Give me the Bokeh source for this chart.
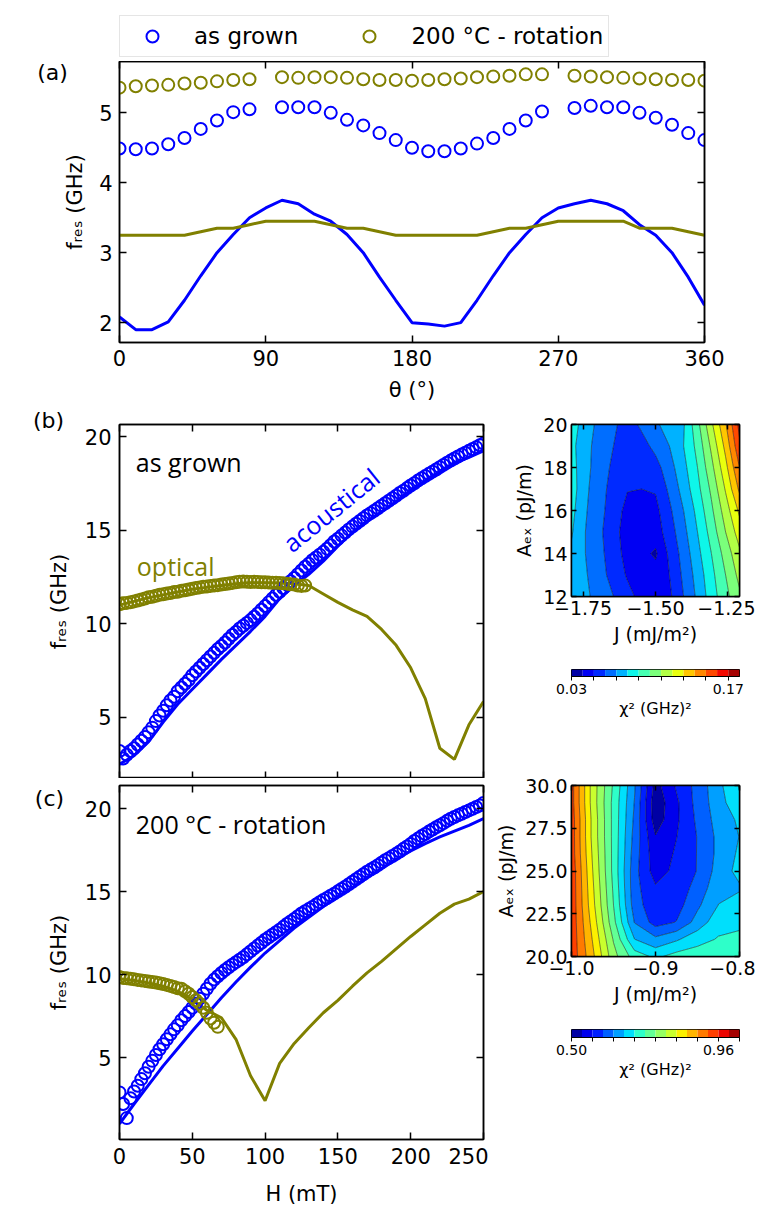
import numpy as np
from bokeh.plotting import figure
from bokeh.models import (Range1d, LinearAxis, FixedTicker, Legend, LegendItem, Label,
                          PrintfTickFormatter, ColumnDataSource)
from bokeh.layouts import column, row
from bokeh.embed import file_html
from bokeh.resources import INLINE

# ------------------------------------------------------------------ data
# (a) resonance frequency vs in-plane angle
theta_pts = [0, 10, 20, 30, 40, 50, 60, 70, 80,
             100, 110, 120, 130, 140, 150, 160, 170, 180, 190, 200, 210, 220, 230, 240, 250, 260,
             280, 290, 300, 310, 320, 330, 340, 350, 360]
fa_grown_pts = [4.49, 4.48, 4.49, 4.55, 4.64, 4.77, 4.89, 5.01, 5.05,
                5.08, 5.08, 5.08, 5.00, 4.90, 4.82, 4.71, 4.61, 4.50, 4.45, 4.45, 4.49, 4.56, 4.64, 4.77, 4.89, 5.02,
                5.07, 5.10, 5.08, 5.08, 5.00, 4.93, 4.83, 4.71, 4.61]
fa_rot_pts = [5.36, 5.38, 5.39, 5.40, 5.42, 5.43, 5.45, 5.47, 5.48,
              5.51, 5.50, 5.51, 5.51, 5.50, 5.48, 5.47, 5.47, 5.46, 5.47, 5.48, 5.49, 5.51, 5.52, 5.53, 5.55, 5.55,
              5.53, 5.52, 5.51, 5.50, 5.49, 5.48, 5.47, 5.47, 5.46]
theta_sim = [0, 10, 20, 30, 40, 50, 60, 70, 80, 90, 100, 110, 120, 130, 140, 150, 160, 170, 180,
             190, 200, 210, 220, 230, 240, 250, 260, 270, 280, 290, 300, 310, 320, 330, 340, 350, 360]
fa_grown_sim = [2.08, 1.90, 1.90, 2.01, 2.32, 2.67, 3.00, 3.26, 3.50, 3.64, 3.75, 3.70, 3.55, 3.45, 3.26,
                3.00, 2.65, 2.32, 2.00, 1.98, 1.95, 2.00, 2.32, 2.67, 3.00, 3.26, 3.50, 3.64, 3.70, 3.75,
                3.70, 3.60, 3.40, 3.25, 3.00, 2.65, 2.25]
fa_rot_sim = [3.25, 3.25, 3.25, 3.25, 3.25, 3.30, 3.35, 3.35, 3.40, 3.45, 3.45, 3.45, 3.45, 3.40, 3.35,
              3.35, 3.30, 3.25, 3.25, 3.25, 3.25, 3.25, 3.25, 3.30, 3.35, 3.35, 3.40, 3.45, 3.45, 3.45,
              3.45, 3.45, 3.35, 3.35, 3.35, 3.30, 3.25]

# (b), (c) field dependence (measured every 2.5 mT)
H_meas = [2.5 * i for i in range(101)]
fb_acou_pts = [3.20, 2.80, 3.00, 3.20, 3.35, 3.55, 3.75, 3.95, 4.20, 4.45,
               4.80, 5.10, 5.35, 5.65, 5.90, 6.10, 6.40, 6.60, 6.80, 7.00,
               7.25, 7.45, 7.65, 7.85, 8.05, 8.25, 8.45, 8.65, 8.82, 9.00,
               9.20, 9.40, 9.57, 9.75, 9.90, 10.05, 10.20, 10.38, 10.55, 10.75,
               10.95, 11.15, 11.35, 11.55, 11.72, 11.92, 12.10, 12.28, 12.45, 12.65,
               12.85, 13.05, 13.22, 13.40, 13.55, 13.70, 13.85, 14.02, 14.20, 14.40,
               14.55, 14.72, 14.88, 15.05, 15.20, 15.35, 15.50, 15.65, 15.80, 15.92,
               16.05, 16.18, 16.32, 16.45, 16.58, 16.72, 16.85, 17.00, 17.12, 17.26,
               17.40, 17.52, 17.66, 17.78, 17.90, 18.02, 18.14, 18.25, 18.38, 18.50,
               18.62, 18.73, 18.84, 18.95, 19.05, 19.15, 19.25, 19.35, 19.45, 19.55,
               19.65]
fb_opt_pts = [11.05, 11.10, 11.12, 11.15, 11.20, 11.25, 11.30, 11.35, 11.42, 11.45,
              11.50, 11.55, 11.58, 11.62, 11.65, 11.70, 11.72, 11.77, 11.80, 11.84,
              11.88, 11.92, 11.95, 11.98, 12.00, 12.03, 12.05, 12.07, 12.10, 12.13,
              12.16, 12.19, 12.22, 12.25, 12.26, 12.25, 12.24, 12.25, 12.24, 12.22,
              12.22, 12.21, 12.20, 12.20, 12.18, 12.17, 12.15, 12.12, 12.10, 12.05,
              12.03, 12.05]
fc_acou_pts = [2.90, 2.20, 1.35, 2.55, 2.95, 3.30, 3.70, 4.05, 4.45, 4.80,
               5.15, 5.50, 5.80, 6.10, 6.40, 6.70, 6.95, 7.25, 7.50, 7.75,
               8.00, 8.25, 8.55, 8.85, 9.15, 9.45, 9.70, 9.90, 10.10, 10.28,
               10.44, 10.60, 10.75, 10.90, 11.05, 11.22, 11.40, 11.58, 11.75, 11.92,
               12.10, 12.25, 12.40, 12.55, 12.70, 12.88, 13.05, 13.20, 13.35, 13.52,
               13.68, 13.82, 13.95, 14.08, 14.22, 14.36, 14.50, 14.62, 14.75, 14.88,
               15.02, 15.16, 15.30, 15.45, 15.60, 15.75, 15.90, 16.05, 16.20, 16.33,
               16.46, 16.60, 16.75, 16.90, 17.02, 17.15, 17.28, 17.42, 17.58, 17.72,
               17.88, 18.05, 18.20, 18.35, 18.48, 18.62, 18.75, 18.88, 19.00, 19.13,
               19.27, 19.40, 19.50, 19.60, 19.70, 19.80, 19.90, 20.00, 20.10, 20.20,
               20.35]
fc_opt_pts = [9.85, 9.80, 9.78, 9.75, 9.72, 9.68, 9.65, 9.62, 9.58, 9.55,
              9.52, 9.48, 9.43, 9.38, 9.32, 9.25, 9.18, 9.15, 9.00, 8.85,
              8.65, 8.45, 8.25, 8.00, 7.70, 7.35, 7.10, 6.85]

# simulations (every 10 mT)
H_sim = [0, 10, 20, 30, 40, 50, 60, 70, 80, 90, 100, 110, 120, 130, 140, 150, 160, 170, 180,
         190, 200, 210, 220, 230, 240, 250]
fb_acou_sim = [2.50, 2.95, 3.70, 4.75, 5.70, 6.50, 7.30, 8.10, 8.85, 9.60, 10.40, 11.35, 12.05,
               12.65, 13.35, 14.15, 14.90, 15.50, 16.00, 16.55, 17.15, 17.65, 18.15, 18.60, 18.90, 19.25]
fb_opt_sim = [11.00, 11.20, 11.40, 11.55, 11.70, 11.85, 11.95, 12.05, 12.15, 12.20, 12.20, 12.18, 12.15,
              12.05, 11.60, 11.15, 10.75, 10.40, 9.70, 8.85, 7.65, 6.00, 3.35, 2.75, 4.60, 5.85]
fc_acou_sim = [1.00, 2.20, 3.35, 4.50, 5.55, 6.60, 7.60, 8.60, 9.55, 10.45, 11.30, 12.05, 12.80,
               13.45, 14.10, 14.70, 15.25, 15.85, 16.40, 16.95, 17.45, 17.90, 18.30, 18.65, 19.00, 19.40]
fc_opt_sim = [9.75, 9.65, 9.50, 9.30, 9.00, 8.50, 7.85, 7.40, 6.10, 3.90, 2.40, 4.65, 5.85,
              6.80, 7.70, 8.45, 9.30, 10.10, 10.80, 11.55, 12.30, 13.00, 13.70, 14.25, 14.55, 15.00]

# chi^2 maps
J_b = [-1.79, -1.742, -1.693, -1.645, -1.597, -1.548, -1.5, -1.452, -1.403, -1.355, -1.307, -1.258, -1.21]
A_b = [12, 13, 14, 15, 16, 17, 18, 19, 20]
chi_b = [
    [0.079, 0.072, 0.066, 0.060, 0.053, 0.047, 0.045, 0.048, 0.060, 0.072, 0.085, 0.097, 0.108],
    [0.076, 0.071, 0.064, 0.056, 0.049, 0.044, 0.044, 0.050, 0.062, 0.074, 0.087, 0.100, 0.113],
    [0.078, 0.070, 0.063, 0.054, 0.047, 0.043, 0.0385, 0.052, 0.064, 0.077, 0.090, 0.104, 0.118],
    [0.081, 0.070, 0.062, 0.053, 0.046, 0.043, 0.045, 0.055, 0.067, 0.080, 0.094, 0.110, 0.125],
    [0.083, 0.071, 0.063, 0.055, 0.047, 0.045, 0.047, 0.058, 0.070, 0.083, 0.098, 0.115, 0.132],
    [0.085, 0.072, 0.064, 0.056, 0.0505, 0.050, 0.051, 0.062, 0.074, 0.087, 0.102, 0.121, 0.142],
    [0.084, 0.073, 0.065, 0.058, 0.051, 0.051, 0.056, 0.066, 0.077, 0.090, 0.107, 0.127, 0.150],
    [0.083, 0.073, 0.066, 0.060, 0.053, 0.056, 0.063, 0.070, 0.080, 0.093, 0.112, 0.133, 0.158],
    [0.085, 0.075, 0.067, 0.062, 0.055, 0.062, 0.068, 0.075, 0.079, 0.097, 0.118, 0.139, 0.163],
]
J_c = [-1.0, -0.975, -0.95, -0.925, -0.9, -0.875, -0.85, -0.825, -0.8]
A_c = [20, 21, 22, 23, 24, 25, 26, 27, 28, 29, 30]
chi_c = [
    [0.950, 0.870, 0.775, 0.715, 0.690, 0.710, 0.715, 0.715, 0.715],
    [0.950, 0.860, 0.760, 0.665, 0.640, 0.660, 0.685, 0.700, 0.705],
    [0.950, 0.850, 0.740, 0.630, 0.585, 0.600, 0.645, 0.685, 0.690],
    [0.950, 0.840, 0.730, 0.615, 0.575, 0.585, 0.625, 0.665, 0.680],
    [0.950, 0.835, 0.725, 0.610, 0.570, 0.580, 0.610, 0.655, 0.660],
    [0.950, 0.830, 0.720, 0.610, 0.550, 0.575, 0.600, 0.645, 0.675],
    [0.945, 0.825, 0.720, 0.615, 0.545, 0.570, 0.600, 0.640, 0.670],
    [0.945, 0.820, 0.720, 0.620, 0.535, 0.565, 0.600, 0.640, 0.665],
    [0.945, 0.820, 0.720, 0.625, 0.515, 0.560, 0.605, 0.645, 0.670],
    [0.940, 0.815, 0.720, 0.630, 0.510, 0.560, 0.610, 0.650, 0.690],
    [0.940, 0.815, 0.725, 0.635, 0.520, 0.570, 0.610, 0.655, 0.700],
]
levels_b = [0.03, 0.04, 0.05, 0.06, 0.07, 0.08, 0.09, 0.10, 0.11, 0.12, 0.13, 0.14, 0.15, 0.16, 0.17, 0.18]
levels_c = [round(0.50 + k * 0.46 / 14, 5) for k in range(17)]
cbar_b_labels = [0.03, 0.17]
cbar_c_labels = [0.50, 0.96]

# ------------------------------------------------------------------ style
BLUE = "#0000ff"
OLIVE = "#808000"
FONT = "DejaVu Sans"
ANN = "Open Sans"


def jet_palette(n):
    t = (np.arange(n) + 0.5) / n
    r = np.interp(t, [0, 0.35, 0.66, 0.89, 1.0], [0, 0, 1, 1, 0.5])
    g = np.interp(t, [0, 0.125, 0.375, 0.64, 0.91, 1.0], [0, 0, 1, 1, 0, 0])
    b = np.interp(t, [0, 0.11, 0.34, 0.65, 1.0], [0.5, 1, 1, 0, 0])
    return ["#%02x%02x%02x" % (int(round(255 * a)), int(round(255 * c)), int(round(255 * d)))
            for a, c, d in zip(r, g, b)]


def style_axis(ax, ticks, tick_len, size, show, standoff, overrides=None, fmt=None):
    ax.ticker = FixedTicker(ticks=ticks)
    ax.major_tick_in = tick_len
    ax.major_tick_out = 0
    ax.minor_tick_line_color = None
    ax.major_tick_line_width = 1.5
    ax.major_tick_line_color = "black"
    ax.axis_line_width = 1.5
    ax.axis_line_color = "black"
    ax.axis_label_text_font_style = "normal"
    if show:
        ax.major_label_text_font = FONT
        ax.major_label_text_font_size = size
        ax.major_label_text_color = "black"
        ax.major_label_standoff = standoff
        if overrides:
            ax.major_label_overrides = overrides
        if fmt:
            ax.formatter = fmt
    else:
        ax.major_label_text_font_size = "0px"
        ax.major_label_text_color = None
        ax.major_label_standoff = 0


def make_fig(width, height, xr, yr, borders, xticks, yticks, tick_len, size,
             show_x=True, show_y=True, xlabel=None, ylabel=None, lab_size="21px",
             x_over=None, y_over=None, y_fmt=None, std=7, lab_std=10, xlab_std=None):
    l, r, t, b = borders
    p = figure(width=width, height=height, x_range=Range1d(*xr), y_range=Range1d(*yr),
               output_backend="svg", toolbar_location=None,
               min_border_left=l, min_border_right=r, min_border_top=t, min_border_bottom=b)
    p.xgrid.visible = False
    p.ygrid.visible = False
    p.outline_line_color = "black"
    p.outline_line_width = 1.5
    p.background_fill_color = "white"
    p.border_fill_color = "white"
    bottom, left = p.xaxis[0], p.yaxis[0]
    style_axis(bottom, xticks, tick_len, size, show_x, std, x_over)
    style_axis(left, yticks, tick_len, size, show_y, std, y_over, y_fmt)
    for ax, lab, s in ((bottom, xlabel, xlab_std if xlab_std is not None else lab_std),
                       (left, ylabel, lab_std)):
        if lab:
            ax.axis_label = lab
            ax.axis_label_text_font = FONT
            ax.axis_label_text_font_size = lab_size
            ax.axis_label_text_color = "black"
            ax.axis_label_standoff = s
    top = LinearAxis()
    right = LinearAxis()
    style_axis(top, xticks, tick_len, size, False, 0)
    style_axis(right, yticks, tick_len, size, False, 0)
    p.add_layout(top, "above")
    p.add_layout(right, "right")
    return p


def ann(p, x, y, text, color="black", size="25px", angle=0):
    p.add_layout(Label(x=x, y=y, text=text, text_color=color, text_font=ANN,
                       text_font_size=size, angle=angle, angle_units="deg",
                       text_align="left", text_baseline="alphabetic"))


def panel_tag(p, x, y, text):
    # placed in the left side panel (outside the frame), screen units
    p.add_layout(Label(x=x, y=y, x_units="screen", y_units="screen", text=text,
                       text_color="black", text_font=FONT, text_font_size="22px",
                       text_align="center", text_baseline="middle"), "left")


FRES = "f\u1d63\u2091\u209b (GHz)"
src_grown = ColumnDataSource(dict(theta=theta_pts, f=fa_grown_pts))
src_rot = ColumnDataSource(dict(theta=theta_pts, f=fa_rot_pts))
circ = dict(size=12, marker="circle", fill_color=None, line_width=2)

# ------------------------------------------------------------------ legend strip
# same series as panel (a); the strip's ranges keep the points themselves out of view
pl = figure(width=748, height=61, x_range=Range1d(-20, -10), y_range=Range1d(0, 1),
            output_backend="svg", toolbar_location=None, x_axis_location=None,
            y_axis_location=None, min_border_left=119, min_border_right=44,
            min_border_top=15, min_border_bottom=0)
pl.outline_line_color = None
pl.grid.visible = False
lg1 = pl.scatter("theta", "f", source=src_grown, line_color=BLUE, **circ)
lg2 = pl.scatter("theta", "f", source=src_rot, line_color=OLIVE, **circ)
legend = Legend(items=[LegendItem(label="as grown", renderers=[lg1], index=0),
                       LegendItem(label="200 \u00b0C - rotation", renderers=[lg2], index=0)],
                orientation="horizontal", location="top_left", margin=0, padding=5,
                spacing=44, glyph_width=54, glyph_height=30, label_height=30,
                label_standoff=15, label_text_font=FONT, label_text_font_size="23px",
                label_text_color="black",
                border_line_color="#cccccc", border_line_width=1.5,
                background_fill_color="white", background_fill_alpha=1.0)
pl.add_layout(legend)

# ------------------------------------------------------------------ (a)
pa = make_fig(748, 343, (0, 360), (1.716, 5.734), (119, 44, 0, 60),
              [0, 90, 180, 270, 360], [2, 3, 4, 5], 7, "21px",
              xlabel="\u03b8 (\u00b0)", ylabel=FRES, std=7, lab_std=9)
pa.line(theta_sim, fa_grown_sim, line_color=BLUE, line_width=3)
pa.line(theta_sim, fa_rot_sim, line_color=OLIVE, line_width=3)
pa.scatter("theta", "f", source=src_grown, line_color=BLUE, **circ)
pa.scatter("theta", "f", source=src_rot, line_color=OLIVE, **circ)
panel_tag(pa, 23, 270, "(a)")

# ------------------------------------------------------------------ (b)
pb = make_fig(488, 374, (0, 250), (1.73, 20.66), (119, 5, 20, 0),
              [0, 50, 100, 150, 200, 250], [5, 10, 15, 20], 7, "21px",
              show_x=False, ylabel=FRES, std=8, lab_std=11)
pb.line(H_sim, fb_acou_sim, line_color=BLUE, line_width=3)
pb.line(H_sim, fb_opt_sim, line_color=OLIVE, line_width=3)
pb.scatter(H_meas, fb_acou_pts, line_color=BLUE, **circ)
pb.scatter(H_meas[:len(fb_opt_pts)], fb_opt_pts, line_color=OLIVE, **circ)
panel_tag(pb, 36, 358.5, "(b)")
ann(pb, 11.2, 18.66, "as grown")
ann(pb, 11.9, 13.09, "optical", color=OLIVE)
ann(pb, 114.3, 14.16, "acoustical", color=BLUE, angle=39)

# ------------------------------------------------------------------ (c)
pc = make_fig(488, 439, (0, 250), (0.06, 21.4), (119, 5, 7, 78),
              [0, 50, 100, 150, 200, 250], [5, 10, 15, 20], 7, "21px",
              xlabel="H (mT)", ylabel=FRES, std=8, lab_std=11, xlab_std=15)
pc.line(H_sim, fc_acou_sim, line_color=BLUE, line_width=3)
pc.line(H_sim, fc_opt_sim, line_color=OLIVE, line_width=3)
pc.scatter(H_meas, fc_acou_pts, line_color=BLUE, **circ)
pc.scatter(H_meas[:len(fc_opt_pts)], fc_opt_pts, line_color=OLIVE, **circ)
panel_tag(pc, 35, 341, "(c)")
ann(pc, 11.2, 19.05, "200 \u00b0C - rotation")

# ------------------------------------------------------------------ chi^2 maps
AEX = "A\u2091\u2093 (pJ/m)"
JLAB = "J (mJ/m\u00b2)"
pal_b = jet_palette(len(levels_b) - 1)
pal_c = jet_palette(len(levels_c) - 1)

mb = make_fig(267, 248, (J_b[0], J_b[-1]), (A_b[0], A_b[-1]), (83, 15, 20, 56),
              [-1.75, -1.5, -1.25], [12, 14, 16, 18, 20], 5, "19px",
              xlabel=JLAB, ylabel=AEX, lab_size="19px",
              x_over={-1.75: "\u22121.75", -1.5: "\u22121.50", -1.25: "\u22121.25"},
              std=4, lab_std=5)
mb.contour(x=J_b, y=A_b, z=np.array(chi_b), levels=levels_b, fill_color=pal_b,
           line_color="black", line_width=0.6, line_alpha=0.8)

mc = make_fig(267, 291, (J_c[0], J_c[-1]), (A_c[0], A_c[-1]), (83, 15, 64, 56),
              [-1.0, -0.9, -0.8], [20, 22.5, 25, 27.5, 30], 5, "19px",
              xlabel=JLAB, ylabel=AEX, lab_size="19px",
              x_over={-1.0: "\u22121.0", -0.9: "\u22120.9", -0.8: "\u22120.8"},
              y_fmt=PrintfTickFormatter(format="%.1f"), std=4, lab_std=5)
mc.contour(x=J_c, y=A_c, z=np.array(chi_c), levels=levels_c, fill_color=pal_c,
           line_color="black", line_width=0.6, line_alpha=0.8)


def colorbar_fig(levels, pal, labels, minor, bar_h):
    p = figure(width=267, height=17 + bar_h + 45, x_range=Range1d(levels[0], levels[-1]),
               y_range=Range1d(0, 1), output_backend="svg", toolbar_location=None,
               y_axis_location=None,
               min_border_left=83, min_border_right=16, min_border_top=17, min_border_bottom=45)
    p.quad(left=levels[:-1], right=levels[1:], bottom=0, top=1, fill_color=pal, line_color=None)
    p.grid.visible = False
    p.outline_line_color = "black"
    p.outline_line_width = 1
    ax = p.xaxis[0]
    ax.ticker = FixedTicker(ticks=labels, minor_ticks=minor)
    ax.formatter = PrintfTickFormatter(format="%.2f")
    ax.major_tick_in = 0
    ax.major_tick_out = 4
    ax.minor_tick_in = 0
    ax.minor_tick_out = 4
    ax.major_tick_line_color = "black"
    ax.minor_tick_line_color = "black"
    ax.axis_line_color = "black"
    ax.major_label_text_font = FONT
    ax.major_label_text_font_size = "14px"
    ax.major_label_text_color = "black"
    ax.major_label_standoff = 3
    ax.axis_label = "\u03c7\u00b2 (GHz)\u00b2"
    ax.axis_label_text_font = FONT
    ax.axis_label_text_font_size = "16px"
    ax.axis_label_text_font_style = "normal"
    ax.axis_label_text_color = "black"
    ax.axis_label_standoff = 2
    return p


cb = colorbar_fig(levels_b, pal_b, cbar_b_labels, [0.05, 0.07, 0.09, 0.11, 0.13, 0.15], 7)
cc = colorbar_fig(levels_c, pal_c, cbar_c_labels, [levels_c[k] for k in (2, 4, 6, 8, 10, 12, 16)], 8)

layout = column(pl, pa, row(column(pb, pc), column(mb, cb, mc, cc)))
open("out.html", "w").write(file_html(layout, INLINE))
